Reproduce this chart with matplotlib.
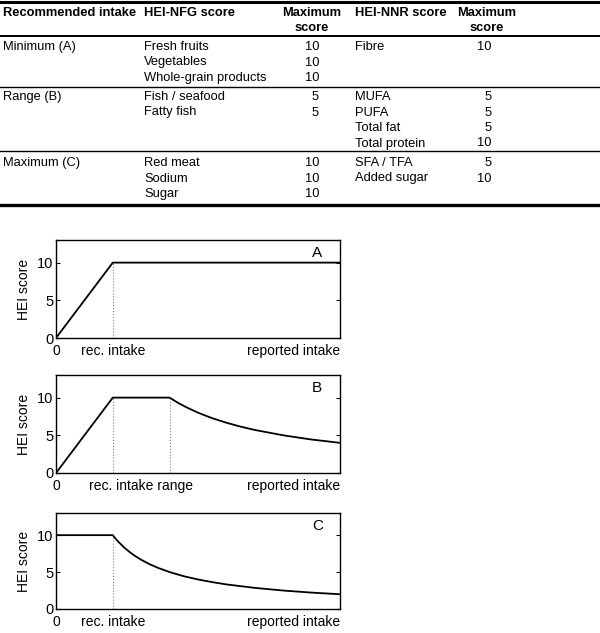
import matplotlib.pyplot as plt

plt.rcParams['font.family'] = ['Liberation Sans', 'DejaVu Sans']

# table data
intake_groups = ["Minimum (A)", "Range (B)", "Maximum (C)"]
nfg_items = [["Fresh fruits", "Vegetables", "Whole-grain products"],
             ["Fish / seafood", "Fatty fish"],
             ["Red meat", "Sodium", "Sugar"]]
nfg_max = [[10, 10, 10], [5, 5], [10, 10, 10]]
nnr_items = [["Fibre"],
             ["MUFA", "PUFA", "Total fat", "Total protein"],
             ["SFA / TFA", "Added sugar"]]
nnr_max = [[10], [5, 5, 5, 10], [5, 10]]

# scoring curves (x = intake relative to axis end, y = HEI score)
curve_a_x = [0, 0.2, 1.0]
curve_a_y = [0, 10, 10]
curve_b_x = [0, 0.2, 0.4, 0.43, 0.46, 0.5, 0.55, 0.6, 0.65, 0.7, 0.8, 0.9, 1.0]
curve_b_y = [0, 10, 10, 9.3, 8.7, 8.0, 7.27, 6.67, 6.15, 5.71, 5.0, 4.44, 4.0]
curve_c_x = [0, 0.2, 0.21, 0.22, 0.24, 0.26, 0.28, 0.3, 0.33, 0.36, 0.4, 0.45,
             0.5, 0.55, 0.6, 0.7, 0.8, 0.9, 1.0]
curve_c_y = [10, 10, 9.52, 9.09, 8.33, 7.69, 7.14, 6.67, 6.06, 5.56, 5.0, 4.44,
             4.0, 3.64, 3.33, 2.86, 2.5, 2.22, 2.0]
rec_a = [0.2]
rec_b = [0.2, 0.4]
rec_c = [0.2]
panel_letters = ["A", "B", "C"]
xlabels = [["0", "rec. intake", "reported intake"],
           ["0", "rec. intake range", "reported intake"],
           ["0", "rec. intake", "reported intake"]]
xlabel_pos = [[0, 0.2, 1.0], [0, 0.3, 1.0], [0, 0.2, 1.0]]

W, H = 600, 633
fig = plt.figure(figsize=(6, 6.33), dpi=100)


def fx(px):
    return px / W


def fy(py):
    return 1 - py / H


def hline(py, lw):
    fig.add_artist(plt.Line2D([0, 1], [fy(py), fy(py)], color='black', lw=lw,
                              transform=fig.transFigure))


fs = 9.3
# header
fig.text(fx(3), fy(13), "Recommended intake", fontsize=fs, weight='bold', va='center')
fig.text(fx(144), fy(13), "HEI-NFG score", fontsize=fs, weight='bold', va='center')
fig.text(fx(312), fy(13), "Maximum", fontsize=fs, weight='bold', va='center', ha='center')
fig.text(fx(312), fy(28), "score", fontsize=fs, weight='bold', va='center', ha='center')
fig.text(fx(355), fy(13), "HEI-NNR score", fontsize=fs, weight='bold', va='center')
fig.text(fx(487), fy(13), "Maximum", fontsize=fs, weight='bold', va='center', ha='center')
fig.text(fx(487), fy(28), "score", fontsize=fs, weight='bold', va='center', ha='center')

hline(1.5, 2.2)
hline(36, 1.4)

row_h = 15.5
group_top = [47, 97, 163]
group_line = [87, 151]
for g, top in enumerate(group_top):
    fig.text(fx(3), fy(top), intake_groups[g], fontsize=fs, va='center')
    for i, (item, m) in enumerate(zip(nfg_items[g], nfg_max[g])):
        yy = fy(top + i * row_h)
        fig.text(fx(144), yy, item, fontsize=fs, va='center')
        fig.text(fx(319), yy, str(m), fontsize=fs, va='center', ha='right')
    for i, (item, m) in enumerate(zip(nnr_items[g], nnr_max[g])):
        yy = fy(top + i * row_h)
        fig.text(fx(355), yy, item, fontsize=fs, va='center')
        fig.text(fx(492), yy, str(m), fontsize=fs, va='center', ha='right')
for py in group_line:
    hline(py, 1.0)
hline(205, 2.4)

# charts
cfs = 10
curves = [(curve_a_x, curve_a_y, rec_a), (curve_b_x, curve_b_y, rec_b),
          (curve_c_x, curve_c_y, rec_c)]
tops = [240, 375, 513]
heights = [98, 98, 96]
for k, ((cx, cy, rec), top, h) in enumerate(zip(curves, tops, heights)):
    ax = fig.add_axes([fx(56), fy(top + h), fx(284), h / H])
    ax.plot(cx, cy, color='black', lw=1.3)
    for r in rec:
        ax.plot([r, r], [0, 10], color='grey', lw=0.8, ls=':')
    ax.set_xlim(0, 1)
    ax.set_ylim(0, 13)
    ax.set_yticks([0, 5, 10])
    ax.tick_params(axis='y', direction='in', right=True, length=3, labelsize=cfs + 0.5, pad=2)
    ax.set_xticks(xlabel_pos[k])
    ax.set_xticklabels(xlabels[k], fontsize=cfs)
    ax.tick_params(axis='x', length=0, pad=4)
    tl = ax.get_xticklabels()
    tl[-1].set_ha('right')
    ax.set_ylabel("HEI score", fontsize=cfs, labelpad=4)
    ax.text(0.92, 11.3, panel_letters[k], fontsize=11, ha='center', va='center')
    for s in ax.spines.values():
        s.set_linewidth(1.0)

fig.savefig('out.png', dpi=100)
